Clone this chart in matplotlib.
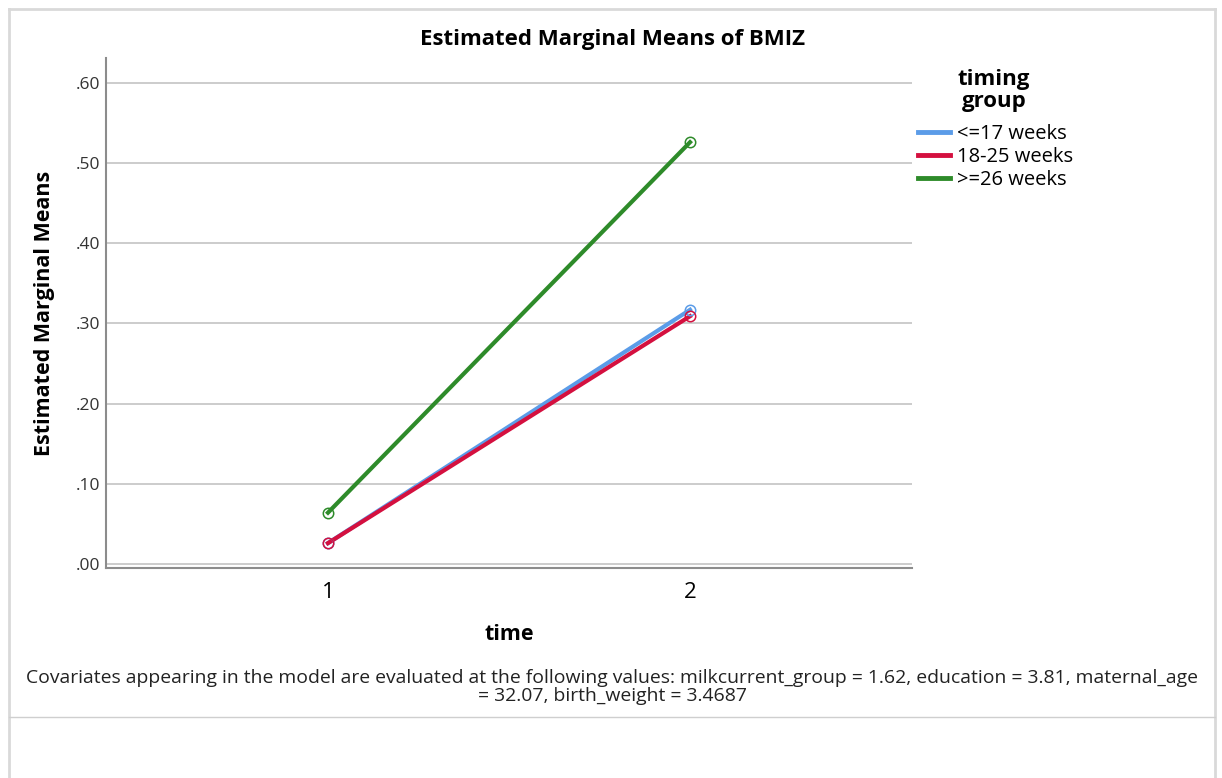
import matplotlib
matplotlib.use("Agg")
import matplotlib.pyplot as plt
from matplotlib.lines import Line2D

plt.rcParams['font.family'] = ['Open Sans', 'DejaVu Sans']

# Estimated marginal means of BMIZ by time point and timing group
time_points = [1, 2]
groups = ["<=17 weeks", "18-25 weeks", ">=26 weeks"]
means_le17 = [0.026, 0.317]
means_18_25 = [0.026, 0.309]
means_ge26 = [0.064, 0.526]
series = [means_le17, means_18_25, means_ge26]
colors = ["#5b9ce8", "#d4103f", "#2e8b2a"]

y_ticks = [0.0, 0.1, 0.2, 0.3, 0.4, 0.5, 0.6]
y_tick_labels = [".00", ".10", ".20", ".30", ".40", ".50", ".60"]
x_tick_labels = ["1", "2"]

title = "Estimated Marginal Means of BMIZ"
legend_title = "timing\ngroup"
note = ("Covariates appearing in the model are evaluated at the following values: "
        "milkcurrent_group = 1.62, education = 3.81, maternal_age\n"
        "= 32.07, birth_weight = 3.4687")

W, H = 1222, 778
fig = plt.figure(figsize=(W / 100, H / 100), dpi=100)

# outer panel frame
frame_color = "#d9d9d9"
fig.add_artist(Line2D([9 / W, 1215 / W], [1 - 8.5 / H, 1 - 8.5 / H], color=frame_color, lw=2))
fig.add_artist(Line2D([9 / W, 9 / W], [0, 1 - 8.5 / H], color=frame_color, lw=2))
fig.add_artist(Line2D([1215 / W, 1215 / W], [0, 1 - 8.5 / H], color=frame_color, lw=2))
fig.add_artist(Line2D([9 / W, 1215 / W], [1 - 717 / H, 1 - 717 / H], color="#cfcfcf", lw=1))

ax = fig.add_axes([106 / W, 1 - 568 / H, (912 - 106) / W, (568 - 58) / H])

for vals, c, lab in zip(series, colors, groups):
    ax.plot(time_points, vals, color=c, lw=3, label=lab, zorder=3)
    ax.plot(time_points, vals, linestyle="none", marker="o", markersize=7.5,
            markerfacecolor="none", markeredgecolor=c, markeredgewidth=1.1, zorder=4)

ax.set_xlim(0.387, 2.613)
ax.set_ylim(-0.005, 0.631)
ax.set_xticks(time_points)
ax.set_xticklabels(x_tick_labels, fontsize=16)
ax.set_yticks(y_ticks)
ax.set_yticklabels(y_tick_labels, fontsize=12.5, color="#333333")
ax.tick_params(axis="both", length=0)
ax.tick_params(axis="x", pad=10)
ax.tick_params(axis="y", pad=4)

ax.grid(axis="y", color="#c8c8c8", lw=1.3)
ax.set_axisbelow(True)
for s in ["top", "right"]:
    ax.spines[s].set_visible(False)
for s in ["left", "bottom"]:
    ax.spines[s].set_color("#8c8c8c")
    ax.spines[s].set_linewidth(1.5)

ax.set_xlabel("time", fontsize=15.5, fontweight="bold", labelpad=15)
ax.set_ylabel("Estimated Marginal Means", fontsize=15.5, fontweight="bold", labelpad=15)

fig.text(612 / W, 1 - 40 / H, title, ha="center", va="center", fontsize=16, fontweight="bold")

# legend: centred bold heading above the entries
fig.text(994 / W, 1 - 90.5 / H, legend_title, ha="center", va="center", fontsize=16,
         fontweight="bold", multialignment="center", linespacing=1.1)
handles = [Line2D([0], [0], color=c, lw=3.5) for c in colors]
leg = fig.legend(handles, groups, loc="upper left", bbox_to_anchor=(908 / W, 1 - 114 / H),
                 frameon=False, fontsize=14.5, borderpad=0,
                 handlelength=1.6, handletextpad=0.35, labelspacing=0.15)

fig.text(612 / W, 1 - 687 / H, note, ha="center", va="center", fontsize=13.95,
         color="#222222", linespacing=0.95)

fig.savefig("out.png", dpi=100)
